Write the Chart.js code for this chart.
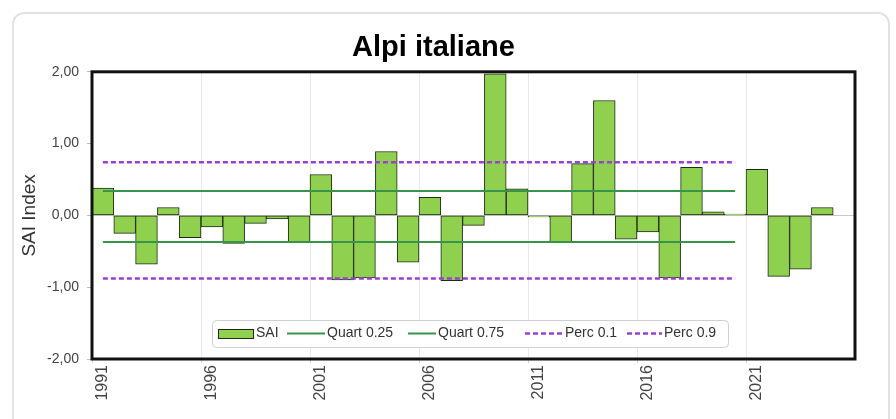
<!DOCTYPE html>
<html>
<head>
<meta charset="utf-8">
<script src="https://cdn.jsdelivr.net/npm/chart.js@4.4.1/dist/chart.umd.min.js"></script>
<style>
  html, body { margin: 0; padding: 0; background: #fff; }
  #wrap { position: relative; width: 896px; height: 419px; overflow: hidden; }
  #frame { position: absolute; left: 12px; top: 12px; width: 878px; height: 430px;
           border: 2px solid #e2e2e2; border-radius: 12px; box-sizing: border-box; }
  canvas { position: absolute; left: 0; top: 0; }
</style>
</head>
<body>
<div id="wrap">
  <div id="frame"></div>
  <canvas id="c" width="896" height="419"></canvas>
</div>
<script>
// ---- data ----
const years = ['1991','1992','1993','1994','1995','1996','1997','1998','1999','2000',
               '2001','2002','2003','2004','2005','2006','2007','2008','2009','2010',
               '2011','2012','2013','2014','2015','2016','2017','2018','2019','2020',
               '2021','2022','2023','2024','2025'];
const sai = [0.38, -0.25, -0.68, 0.11, -0.31, -0.16, -0.39, -0.11, -0.05, -0.38,
             0.57, -0.90, -0.87, 0.89, -0.65, 0.25, -0.91, -0.14, 1.97, 0.37,
             -0.02, -0.37, 0.72, 1.60, -0.33, -0.23, -0.87, 0.67, 0.05, 0.02,
             0.64, -0.85, -0.75, 0.11, null];
const refPeriodEnd = '2020';
const quart25 = -0.37;
const quart75 = 0.34;
const perc10 = -0.88;
const perc90 = 0.74;
const yTicks = [-2, -1, 0, 1, 2];

const endIdx = years.indexOf(refPeriodEnd);
const refLine = v => years.map((y, i) => i <= endIdx ? v : null);

const barFill = '#8fd14f';
const barEdge = '#1f2a14';
const quartColor = '#37944a';
const percColor = '#9a3fd6';

const frameAndLegend = {
  id: 'frameAndLegend',
  afterDraw(chart) {
    const ctx = chart.ctx, a = chart.chartArea;
    ctx.save();
    // plot border
    ctx.strokeStyle = '#111';
    ctx.lineWidth = 3;
    ctx.strokeRect(a.left, a.top, a.right - a.left, a.bottom - a.top);
    // legend box
    const bx = 212, by = 320, bw = 516, bh = 27;
    ctx.fillStyle = '#fff';
    ctx.strokeStyle = '#d0d0d0';
    ctx.lineWidth = 1;
    ctx.beginPath();
    ctx.roundRect(bx + 0.5, by + 0.5, bw, bh, 4);
    ctx.fill(); ctx.stroke();
    const cy = 333.5;
    ctx.font = '14px "Liberation Sans", Arial, sans-serif';
    ctx.textBaseline = 'middle';
    const ds = chart.data.datasets;
    // SAI swatch
    ctx.fillStyle = ds[0].backgroundColor;
    ctx.fillRect(218, 329, 35, 9);
    ctx.strokeStyle = ds[0].borderColor;
    ctx.strokeRect(218.5, 329.5, 35, 9);
    ctx.fillStyle = '#333';
    ctx.fillText(ds[0].label, 256, cy);
    const items = [
      [ds[1], 287, 325, 327],
      [ds[2], 408, 436, 438],
      [ds[3], 525, 563, 565],
      [ds[4], 627, 662, 664]
    ];
    items.forEach(([d, x1, x2, tx]) => {
      ctx.strokeStyle = d.borderColor;
      ctx.lineWidth = d.borderWidth;
      ctx.setLineDash(d.borderDash || []);
      ctx.beginPath(); ctx.moveTo(x1, cy); ctx.lineTo(x2, cy); ctx.stroke();
      ctx.setLineDash([]);
      ctx.fillStyle = '#333';
      ctx.fillText(d.label, tx, cy);
    });
    ctx.restore();
  }
};

new Chart(document.getElementById('c'), {
  data: {
    labels: years,
    datasets: [
      { type: 'bar', label: 'SAI', data: sai, backgroundColor: barFill, borderColor: barEdge,
        borderWidth: 1, borderSkipped: false, categoryPercentage: 1, barPercentage: 1, order: 5 },
      { type: 'line', label: 'Quart 0.25', data: refLine(quart25), borderColor: quartColor,
        borderWidth: 2, pointRadius: 0, fill: false, order: 1 },
      { type: 'line', label: 'Quart 0.75', data: refLine(quart75), borderColor: quartColor,
        borderWidth: 2, pointRadius: 0, fill: false, order: 1 },
      { type: 'line', label: 'Perc 0.1', data: refLine(perc10), borderColor: percColor,
        borderWidth: 2.5, borderDash: [5, 3], pointRadius: 0, fill: false, order: 1 },
      { type: 'line', label: 'Perc 0.9', data: refLine(perc90), borderColor: percColor,
        borderWidth: 2.5, borderDash: [5, 3], pointRadius: 0, fill: false, order: 1 }
    ]
  },
  options: {
    responsive: false,
    animation: false,
    events: [],
    layout: { padding: { left: 12, right: 41, top: 0, bottom: 0 } },
    plugins: {
      legend: { display: false },
      tooltip: { enabled: false },
      title: {
        display: true, text: 'Alpi italiane', color: '#000',
        font: { family: '"Liberation Sans", Arial, sans-serif', size: 29, weight: 'bold' },
        padding: { top: 31, bottom: 6 }
      }
    },
    scales: {
      x: {
        type: 'category',
        offset: true,
        afterFit(s) { s.height = 60; },
        grid: {
          offset: true,
          drawTicks: true,
          tickLength: 4,
          color: c => (c.index % 5 === 0 && c.index > 0) ? '#e8e8e8' : 'rgba(0,0,0,0)',
          tickColor: c => (c.index % 5 === 0) ? '#cfcfcf' : 'rgba(0,0,0,0)'
        },
        border: { display: false },
        ticks: {
          autoSkip: false, minRotation: 90, maxRotation: 90, padding: 2,
          color: '#444',
          font: { family: '"Liberation Sans", Arial, sans-serif', size: 16 },
          callback: (v, i) => (i % 5 === 0) ? years[i] : ''
        }
      },
      y: {
        min: -2, max: 2,
        afterFit(s) { s.width = 80; },
        afterBuildTicks(s) { s.ticks = yTicks.map(v => ({ value: v })); },
        grid: {
          drawTicks: true, tickLength: 5,
          color: c => (c.tick && c.tick.value === 0) ? '#c8c8c8' : 'rgba(0,0,0,0)',
          tickColor: '#bbb'
        },
        border: { display: false },
        ticks: {
          padding: 8, color: '#444',
          font: { family: '"Liberation Sans", Arial, sans-serif', size: 14 },
          callback: v => v.toFixed(2).replace('.', ',')
        },
        title: {
          display: true, text: 'SAI Index', color: '#333',
          font: { family: '"Liberation Sans", Arial, sans-serif', size: 19 },
          padding: { top: 6, bottom: 0 }
        }
      }
    }
  },
  plugins: [frameAndLegend]
});
</script>
</body>
</html>
